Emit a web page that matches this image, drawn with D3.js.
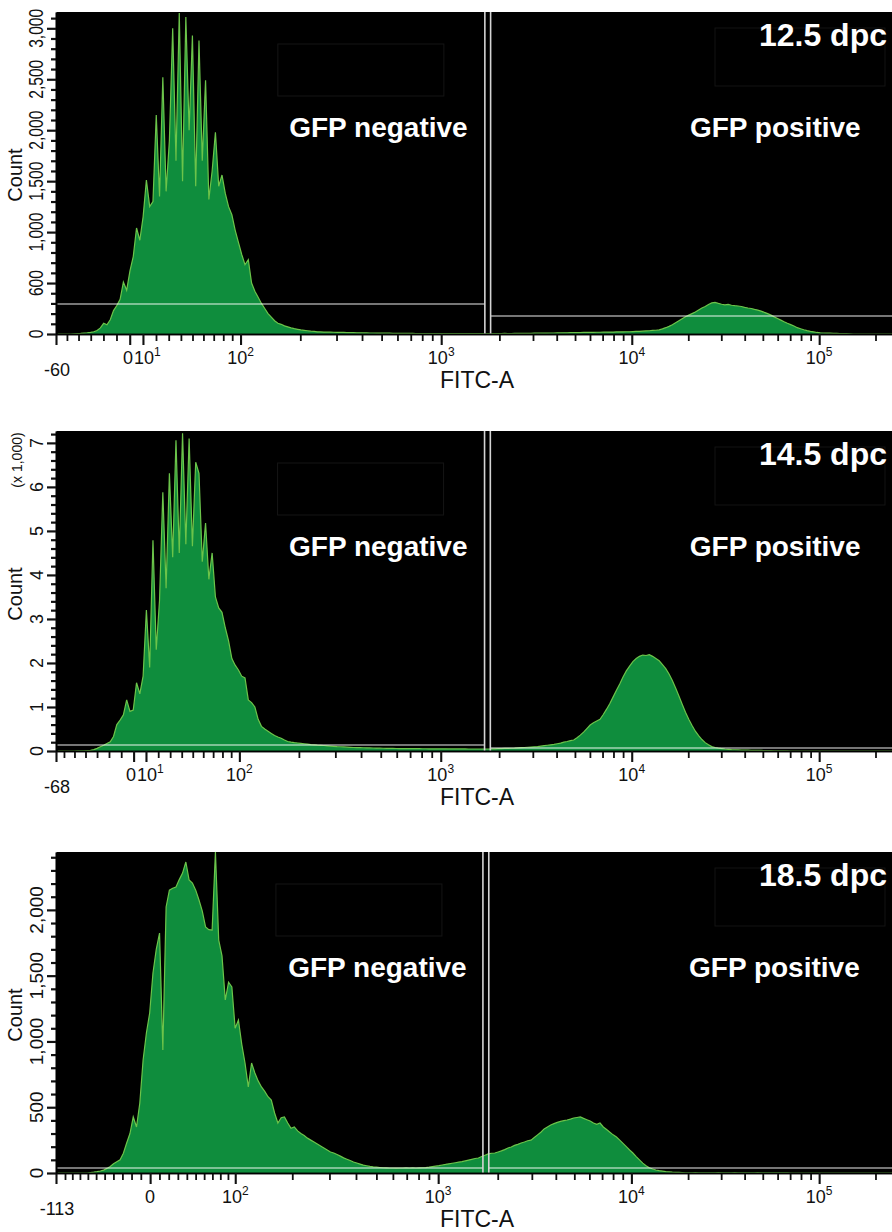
<!DOCTYPE html>
<html>
<head>
<meta charset="utf-8">
<title>FITC-A histograms</title>
<script src="https://cdn.jsdelivr.net/npm/d3@7/dist/d3.min.js"></script>
<style>
  html, body { margin: 0; padding: 0; background: #ffffff; }
  svg { display: block; font-family: "Liberation Sans", Arial, Helvetica, sans-serif; }
</style>
</head>
<body>
<svg id="chart" width="892" height="1232"></svg>
<script>
// ---------------------------------------------------------------------------
// Data: 256-channel FITC-A histograms on a logicle (biexponential) display.
// Channel i sits at display position (i + 0.5) / 256 of the 4.5-decade range.
// ---------------------------------------------------------------------------
const CHANNELS = 256;
const DECADES = 4.5;
const TOP_VALUE = 262144;

const stageLabels = ["12.5 dpc", "14.5 dpc", "18.5 dpc"];
const gateNames = ["GFP negative", "GFP positive"];
const axisMinValues = [-60, -68, -113];
const countMax = [3160, 7270, 2440];

// gate boundaries on FITC-A (negative gate ends, positive gate starts)
const gateBounds = [1680, 1800];
// count level at which each range-gate bar is drawn [negative, positive]
const gateLevels125 = [294, 176];
const gateLevels145 = [136, 68];
const gateLevels185 = [38, 38];

const counts125 = [
  0,0,0,0,0,2,4,6,9,12,
  16,22,35,60,105,90,140,230,280,340,
  510,430,620,760,1040,920,1150,1510,1250,1300,
  2150,1350,2520,1400,1900,3000,1700,3150,1500,3110,
  2000,2930,1450,2880,1700,2490,1320,1600,1980,1450,
  1560,1380,1250,1170,1020,900,780,680,730,500,
  420,360,300,250,200,165,130,105,95,80,
  70,60,52,46,40,36,32,28,25,21,
  20,19,18,18,17,16,15,15,14,13,
  13,12,12,11,11,10,10,9,9,8,
  8,8,7,7,7,6,6,6,6,5,
  5,5,5,5,4,4,4,4,4,4,
  4,4,3,3,3,3,3,3,3,3,
  3,3,4,4,4,5,6,5,5,6,
  6,7,6,7,7,8,8,8,9,9,
  10,10,11,11,12,12,13,13,14,14,
  15,15,16,16,17,17,18,18,19,19,
  20,20,21,22,22,24,25,26,28,30,
  32,35,37,40,50,62,75,90,110,130,
  150,170,185,200,215,235,255,270,290,305,
  310,300,292,285,290,282,278,275,270,262,
  255,250,242,235,225,212,200,185,168,152,
  136,120,105,92,78,62,52,42,33,25,
  20,15,12,10,9,8,7,6,5,4,
  3,2,0,0,0,0,0,0,0,0,
  0,0,0,0,0,0
];

const counts145 = [
  0,0,0,0,0,0,2,4,6,10,
  15,30,60,95,130,170,210,330,600,700,
  820,1160,900,930,1550,1300,1700,3200,1900,4790,
  2300,3430,5880,3700,6310,4400,7060,4500,7220,4700,
  7100,4650,6560,6310,4300,5180,3900,4500,3500,3250,
  3150,2800,2500,2100,1950,1840,1700,1660,1160,1100,
  1000,720,560,500,450,400,350,318,290,250,
  215,200,190,182,175,165,155,145,138,132,
  130,125,118,112,106,100,96,92,88,84,
  80,78,76,74,72,70,68,66,64,62,
  60,59,58,57,56,55,54,53,53,52,
  52,51,51,50,50,50,49,49,49,48,
  48,48,47,47,47,46,46,46,45,45,
  45,45,48,50,52,55,58,60,62,65,
  70,75,80,85,90,95,100,110,120,130,
  140,150,165,180,200,215,235,250,300,360,
  430,510,590,640,680,720,830,950,1080,1230,
  1380,1520,1680,1820,1930,2030,2100,2150,2180,2170,
  2190,2150,2100,2050,1960,1870,1750,1600,1430,1250,
  1060,880,720,580,450,350,260,190,140,100,
  80,65,55,45,38,30,28,25,22,20,
  18,16,15,13,12,10,9,8,6,5,
  4,3,2,0,0,0,0,0,0,0,
  0,0,0,0,0,0,0,0,0,0,
  0,0,0,0,0,0,0,0,0,0,
  0,0,0,0,0,0
];

const counts185 = [
  0,0,0,0,0,0,0,0,0,0,
  3,6,10,15,22,35,50,70,85,100,
  150,228,300,426,350,532,859,1064,1216,1520,
  1700,1824,935,2022,2150,2165,2174,2230,2280,2364,
  2227,2204,2150,2075,1990,1870,1850,1847,2440,1771,
  1650,1315,1450,1414,1100,1163,980,836,654,836,
  760,700,654,620,580,555,456,380,420,426,
  380,340,350,320,300,285,265,250,235,220,
  205,190,175,160,152,140,128,115,105,95,
  84,76,68,60,55,50,46,44,42,40,
  39,38,38,37,38,38,39,38,40,38,
  39,40,41,44,48,52,56,61,65,70,
  74,78,82,86,92,98,104,110,114,125,
  135,145,150,152,160,168,178,190,198,210,
  218,228,236,245,250,270,290,310,335,350,
  365,375,385,392,398,403,410,418,422,426,
  415,405,395,380,370,380,350,330,310,290,
  274,250,225,200,175,152,125,100,75,55,
  40,30,23,18,14,10,8,6,5,4,
  3,2,2,2,3,2,2,2,2,2,
  2,3,2,2,2,2,3,2,2,2,
  2,2,2,3,2,2,2,2,2,2,
  2,2,2,0,0,0,0,0,0,0,
  0,0,0,0,0,0,0,0,0,0,
  0,0,0,0,0,0,0,0,0,0,
  0,0,0,0,0,0
];

// y-axis ticks and their printed labels
const yTicks125 = [0, 500, 1000, 1500, 2000, 2500, 3000];
const yLabels125 = ["0", "600", "1,000", "1,500", "2,000", "2,500", "3,000"];
const yTicks145 = [0, 1000, 2000, 3000, 4000, 5000, 6000, 7000];
const yLabels145 = ["0", "1", "2", "3", "4", "5", "6", "7"];
const yTicks185 = [0, 500, 1000, 1500, 2000];
const yLabels185 = ["0", "500", "1,000", "1,500", "2,000"];
const yMinorSteps = [100, 200, 100];

// x-axis (FITC-A) ticks
const xLabeledTicks = [0, 10, 100, 1000, 10000, 100000];
const xLabeledTicks185 = [0, 100, 1000, 10000, 100000];
const xTickBases = { "0": "0", "10": "10", "100": "10", "1000": "10", "10000": "10", "100000": "10" };
const xTickExponents = { "0": "", "10": "1", "100": "2", "1000": "3", "10000": "4", "100000": "5" };
const xMinorTicks = [
  10, 20, 30, 40, 50, 60, 70, 80, 90,
  200, 300, 400, 500, 600, 700, 800, 900,
  2000, 3000, 4000, 5000, 6000, 7000, 8000, 9000,
  20000, 30000, 40000, 50000, 60000, 70000, 80000, 90000,
  200000
];
const xNegativeTicks = [-10, -20, -30, -40, -50, -60, -70, -80, -90, -100];

// ---------------------------------------------------------------------------
// Layout
// ---------------------------------------------------------------------------
const PLOT_LEFT = 56;
const PLOT_RIGHT = 892;
const DECADE_PX = 187;
const panelFrames = [
  { top: 12, bottom: 334 },
  { top: 431, bottom: 751 },
  { top: 852, bottom: 1173 }
];
const yLabelStyles = [
  { size: 20, squeeze: 0.78 },
  { size: 18, squeeze: 1 },
  { size: 19, squeeze: 1 }
];

const FILL_GREEN = "#0f8d3d";
const EDGE_GREEN = "#6cc44a";
const FONT = '"Liberation Sans", Arial, Helvetica, sans-serif';

const panels = [
  { stage: stageLabels[0], counts: counts125, min: axisMinValues[0], yMax: countMax[0],
    yTicks: yTicks125, yLabels: yLabels125, yMinor: yMinorSteps[0], gateLevels: gateLevels125,
    xLabeled: xLabeledTicks, multiplier: null },
  { stage: stageLabels[1], counts: counts145, min: axisMinValues[1], yMax: countMax[1],
    yTicks: yTicks145, yLabels: yLabels145, yMinor: yMinorSteps[1], gateLevels: gateLevels145,
    xLabeled: xLabeledTicks, multiplier: "(x 1,000)" },
  { stage: stageLabels[2], counts: counts185, min: axisMinValues[2], yMax: countMax[2],
    yTicks: yTicks185, yLabels: yLabels185, yMinor: yMinorSteps[2], gateLevels: gateLevels185,
    xLabeled: xLabeledTicks185, multiplier: null }
];

// ---------------------------------------------------------------------------
// Logicle transform: display position (decades) -> data value, with the
// linearisation width W chosen so the display starts at the axis minimum.
// ---------------------------------------------------------------------------
function logicleFor(W) {
  let lo = 1.000001, hi = 60;
  for (let k = 0; k < 80; k++) {
    const m = (lo + hi) / 2;
    if (2 * m * Math.log10(m) / (m + 1) < W) lo = m; else hi = m;
  }
  const p = (lo + hi) / 2;
  const a = TOP_VALUE * Math.pow(10, -(DECADES - W));
  const half = d => a * (Math.pow(10, d) - p * p * Math.pow(10, -d / p) + p * p - 1);
  return y => { const d = y - W; return d >= 0 ? half(d) : -half(-d); };
}

function logicleWithMinimum(minValue) {
  let lo = 0.02, hi = 1.5;
  for (let k = 0; k < 80; k++) {
    const m = (lo + hi) / 2;
    if (logicleFor(m)(0) > minValue) lo = m; else hi = m;
  }
  return logicleFor((lo + hi) / 2);
}

// scale object usable by d3.axis: data value -> pixel
function logicleScale(S, lin) {
  const inverse = v => {
    let lo = -1, hi = DECADES + 1;
    for (let k = 0; k < 70; k++) {
      const m = (lo + hi) / 2;
      if (S(m) < v) lo = m; else hi = m;
    }
    return (lo + hi) / 2;
  };
  const f = v => lin(inverse(v));
  f.copy = () => logicleScale(S, lin.copy());
  f.range = () => lin.range();
  f.domain = () => [S(0), S(DECADES)];
  return f;
}

// ---------------------------------------------------------------------------
// Drawing
// ---------------------------------------------------------------------------
const svg = d3.select("#chart");
const defs = svg.append("defs");

panels.forEach((panel, idx) => {
  const frame = panelFrames[idx];
  const g = svg.append("g").attr("class", "panel");

  const xDisplay = d3.scaleLinear()
    .domain([0, DECADES])
    .range([PLOT_LEFT, PLOT_LEFT + DECADES * DECADE_PX]);
  const S = logicleWithMinimum(panel.min);
  const xValue = logicleScale(S, xDisplay);
  const y = d3.scaleLinear().domain([0, panel.yMax]).range([frame.bottom, frame.top]);

  // plot background
  g.append("rect")
    .attr("x", PLOT_LEFT + 1).attr("y", frame.top)
    .attr("width", PLOT_RIGHT - PLOT_LEFT + 10).attr("height", frame.bottom - frame.top)
    .attr("fill", "#000");

  const clipId = "plot-clip-" + idx;
  defs.append("clipPath").attr("id", clipId)
    .append("rect")
    .attr("x", PLOT_LEFT + 1).attr("y", frame.top)
    .attr("width", PLOT_RIGHT - PLOT_LEFT).attr("height", frame.bottom - frame.top);

  const plot = g.append("g").attr("clip-path", `url(#${clipId})`);

  // faint annotation boxes left in the acquisition layout
  const gx0 = xValue(gateBounds[0]);
  plot.append("rect")
    .attr("x", gx0 - 207).attr("y", frame.top + 32)
    .attr("width", 166).attr("height", 52)
    .attr("fill", "none").attr("stroke", "#141414").attr("stroke-width", 1);
  plot.append("rect")
    .attr("x", PLOT_RIGHT - 177).attr("y", frame.top + 16)
    .attr("width", 170).attr("height", 58)
    .attr("fill", "none").attr("stroke", "#131313").attr("stroke-width", 1);

  // histogram
  const bins = panel.counts.map((c, i) => ({ pos: (i + 0.5) * DECADES / CHANNELS, count: c }));
  const area = d3.area()
    .x(d => xDisplay(d.pos))
    .y0(y(0))
    .y1(d => y(d.count))
    .curve(d3.curveLinear);
  const line = d3.line()
    .x(d => xDisplay(d.pos))
    .y(d => y(d.count))
    .curve(d3.curveLinear);

  plot.append("path").datum(bins)
    .attr("d", area)
    .attr("fill", FILL_GREEN);
  plot.append("path").datum(bins)
    .attr("d", line)
    .attr("fill", "none")
    .attr("stroke", EDGE_GREEN)
    .attr("stroke-width", 1.2)
    .attr("stroke-linejoin", "miter");

  // range gates: horizontal bars and the double boundary line
  const gxLow = xValue(gateBounds[0]);
  const gxHigh = xValue(gateBounds[1]);
  plot.append("line")
    .attr("x1", PLOT_LEFT).attr("x2", gxLow)
    .attr("y1", y(panel.gateLevels[0])).attr("y2", y(panel.gateLevels[0]))
    .attr("stroke", "rgba(255,255,255,0.62)").attr("stroke-width", 1.5);
  plot.append("line")
    .attr("x1", gxHigh).attr("x2", PLOT_RIGHT + 10)
    .attr("y1", y(panel.gateLevels[1])).attr("y2", y(panel.gateLevels[1]))
    .attr("stroke", "rgba(255,255,255,0.62)").attr("stroke-width", 1.5);
  [gxLow, gxHigh].forEach(gx => {
    g.append("line")
      .attr("x1", gx).attr("x2", gx)
      .attr("y1", frame.top).attr("y2", frame.bottom + 1)
      .attr("stroke", "#d4d4d4").attr("stroke-width", 1.6);
  });

  // in-plot annotations
  g.append("text")
    .attr("x", PLOT_RIGHT - 5).attr("y", frame.top + 34)
    .attr("text-anchor", "end")
    .attr("fill", "#fff").attr("font-family", FONT)
    .attr("font-weight", "bold").attr("font-size", 32)
    .text(panel.stage);
  const gateCenters = [
    (PLOT_LEFT + gxLow) / 2 + 108,
    (gxHigh + PLOT_RIGHT) / 2 + 84
  ];
  gateNames.forEach((name, k) => {
    g.append("text")
      .attr("x", gateCenters[k]).attr("y", frame.top + 125)
      .attr("text-anchor", "middle")
      .attr("fill", "#fff").attr("font-family", FONT)
      .attr("font-weight", "bold").attr("font-size", 28)
      .text(name);
  });

  // ---- x axis (logicle) ----
  const negTicks = xNegativeTicks.filter(v => v > panel.min);
  const minor = negTicks.concat(xMinorTicks.filter(v => panel.xLabeled.indexOf(v) < 0));
  const major = [panel.min].concat(panel.xLabeled);

  const xAxisMinor = g.append("g")
    .attr("transform", `translate(0,${frame.bottom})`)
    .call(d3.axisBottom(xValue).tickValues(minor).tickSize(7).tickSizeOuter(0).tickFormat(() => ""));
  const xAxisMajor = g.append("g")
    .attr("transform", `translate(0,${frame.bottom})`)
    .call(d3.axisBottom(xValue).tickValues(major).tickSize(11).tickSizeOuter(0).tickFormat(() => ""));
  [xAxisMinor, xAxisMajor].forEach(ax => {
    ax.select(".domain").attr("stroke", "#000").attr("stroke-width", 1.6);
    ax.selectAll(".tick line").attr("stroke", "#111");
  });
  xAxisMinor.selectAll(".tick line").attr("stroke-width", 1.8);
  xAxisMajor.selectAll(".tick line").attr("stroke-width", 2.1);

  // tick labels: 10 with a raised exponent; where 0 and 10 are close,
  // the two labels are set edge to edge ("0" ending where "10" starts)
  const hasTen = panel.xLabeled.indexOf(10) >= 0;
  const tenStart = hasTen ? xValue(10) - 9 : null;
  panel.xLabeled.forEach(v => {
    let x = xValue(v), anchor = "middle";
    if (hasTen && v === 0) { x = tenStart - 1; anchor = "end"; }
    if (hasTen && v === 10) { x = tenStart; anchor = "start"; }
    const t = g.append("text")
      .attr("x", x)
      .attr("y", frame.bottom + 30)
      .attr("text-anchor", anchor)
      .attr("font-family", FONT).attr("font-size", 18).attr("fill", "#111");
    t.append("tspan").text(xTickBases[String(v)]);
    const ex = xTickExponents[String(v)];
    if (ex) t.append("tspan").attr("dy", -8).attr("font-size", 12).text(ex);
  });
  g.append("text")
    .attr("x", xValue(panel.min) + 1).attr("y", frame.bottom + 42)
    .attr("text-anchor", "middle")
    .attr("font-family", FONT).attr("font-size", 18).attr("fill", "#111")
    .text(String(panel.min));
  g.append("text")
    .attr("x", 477).attr("y", frame.bottom + 54)
    .attr("text-anchor", "middle")
    .attr("font-family", FONT).attr("font-size", 23).attr("fill", "#111")
    .text("FITC-A");

  // ---- y axis ----
  const yMinorTicks = d3.range(0, panel.yMax, panel.yMinor).filter(v => panel.yTicks.indexOf(v) < 0);
  const yAxisMinor = g.append("g")
    .attr("transform", `translate(${PLOT_LEFT},0)`)
    .call(d3.axisLeft(y).tickValues(yMinorTicks).tickSize(5).tickSizeOuter(0).tickFormat(() => ""));
  const yAxisMajor = g.append("g")
    .attr("transform", `translate(${PLOT_LEFT},0)`)
    .call(d3.axisLeft(y).tickValues(panel.yTicks).tickSize(9).tickSizeOuter(0).tickFormat(() => ""));
  [yAxisMinor, yAxisMajor].forEach(ax => {
    ax.select(".domain").attr("stroke", "#000").attr("stroke-width", 1.6);
    ax.selectAll(".tick line").attr("stroke", "#111").attr("stroke-width", 2.2);
  });

  const ls = yLabelStyles[idx];
  panel.yTicks.forEach((v, k) => {
    g.append("text")
      .attr("transform", `translate(43,${y(v)}) rotate(-90) scale(${ls.squeeze},1)`)
      .attr("text-anchor", "middle")
      .attr("font-family", FONT).attr("font-size", ls.size).attr("fill", "#111")
      .text(panel.yLabels[k]);
  });
  g.append("text")
    .attr("transform", `translate(22,${frame.top + 163}) rotate(-90)`)
    .attr("text-anchor", "middle")
    .attr("font-family", FONT).attr("font-size", 20).attr("fill", "#111")
    .text("Count");
  if (panel.multiplier) {
    g.append("text")
      .attr("transform", `translate(22,${frame.top + 29}) rotate(-90)`)
      .attr("text-anchor", "middle")
      .attr("font-family", FONT).attr("font-size", 14).attr("fill", "#111")
      .text(panel.multiplier);
  }
});
</script>
</body>
</html>
